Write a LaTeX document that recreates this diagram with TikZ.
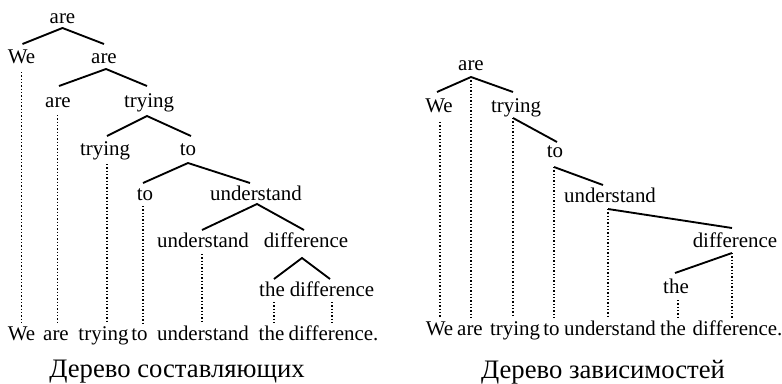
\documentclass[tikz,border=0pt]{standalone}
\usepackage{fontspec}
\setmainfont{Liberation Serif}
\usetikzlibrary{calc}
\begin{document}
\begin{tikzpicture}[x=0.75pt,y=-0.75pt,
  word/.style={anchor=base,inner sep=0pt,font=\fontsize{15.7}{18}\selectfont},
  capt/.style={anchor=base,inner sep=0pt,font=\fontsize{20}{24}\selectfont},
  edge/.style={line width=1.4pt},
  guide/.style={line width=1pt,dash pattern=on 1pt off 1.5pt}]
\useasboundingbox (0,0) rectangle (782,383);
% ---------- constituency tree ----------
\node[word] (a1) at (62.5,23) {are};
\node[word] (we) at (21.5,63) {We};
\node[word] (a2) at (104,63) {are};
\node[word] (a3) at (58,107) {are};
\node[word] (t1) at (149,107) {trying};
\node[word] (t2) at (105,155) {trying};
\node[word] (o1) at (188,155) {to};
\node[word] (o2) at (145,200) {to};
\node[word] (u1) at (256,200) {understand};
\node[word] (u2) at (203,247) {understand};
\node[word] (d1) at (306,247) {difference};
\node[word] (th) at (272,296) {the};
\node[word] (d2) at (332,296) {difference};
% bottom sentence
\node[word] (lw1) at (21.5,340) {We};
\node[word] (lw2) at (56,340) {are};
\node[word] (lw3) at (103.5,340) {trying};
\node[word] (lw4) at (139.5,340) {to};
\node[word] (lw5) at (203,340) {understand};
\node[word] (lw6) at (271.5,340) {the};
\node[word] (lw7) at (333.5,340) {difference.};
\node[capt] (c1) at (177,377) {Дерево составляющих};
% edges
\draw[edge] ($(we.base)+(1,-19)$) -- ($(a1.base)+(0,5)$) -- ($(a2.base)+(0,-19)$);
\draw[edge] ($(a3.base)+(1,-21)$) -- ($(a2.base)+(2,6)$) -- ($(t1.base)+(-2,-21)$);
\draw[edge] ($(t2.base)+(2,-19)$) -- ($(t1.base)+(-2,9)$) -- ($(o1.base)+(3,-19)$);
\draw[edge] ($(o2.base)+(-2,-17)$) -- ($(o1.base)+(0,8)$) -- ($(u1.base)+(-6,-17)$);
\draw[edge] ($(u2.base)+(-1,-17)$) -- ($(u1.base)+(1,4)$) -- ($(d1.base)+(-2,-17)$);
\draw[edge] ($(th.base)+(2,-17)$) -- ($(d1.base)+(-4,11)$) -- ($(d2.base)+(-2,-17)$);
% dotted guides
\draw[guide] ($(we.base)+(0,9)$) -- ($(we.base |- lw1.base)+(0,-17)$);
\draw[guide] ($(a3.base)+(-0.7,8)$) -- ($(a3.base |- lw2.base)+(-0.7,-17)$);
\draw[guide] ($(t2.base)+(2,9)$) -- ($(t2.base |- lw3.base)+(2,-17)$);
\draw[guide] ($(o2.base)+(-2,6)$) -- ($(o2.base |- lw4.base)+(-2,-17)$);
\draw[guide] ($(u2.base)+(-1,7)$) -- ($(u2.base |- lw5.base)+(-1,-17)$);
\draw[guide] ($(th.base)+(2,6)$) -- ($(th.base |- lw6.base)+(2,-17)$);
\draw[guide] ($(d2.base)+(0,6)$) -- ($(d2.base |- lw7.base)+(0,-17)$);
% ---------- dependency tree ----------
\node[word] (ra) at (471,70) {are};
\node[word] (rwe) at (439,112) {We};
\node[word] (rt) at (516,112) {trying};
\node[word] (ro) at (555,157) {to};
\node[word] (ru) at (610,202) {understand};
\node[word] (rd) at (735,247) {difference};
\node[word] (rth) at (676,293) {the};
\node[word] (rw1) at (439.5,335) {We};
\node[word] (rw2) at (470,335) {are};
\node[word] (rw3) at (515,335) {trying};
\node[word] (rw4) at (551.5,335) {to};
\node[word] (rw5) at (610,335) {understand};
\node[word] (rw6) at (673,335) {the};
\node[word] (rw7) at (737.5,335) {difference.};
\node[capt] (c2) at (603,378) {Дерево зависимостей};
% edges
\draw[edge] ($(rwe.base)+(-2,-20)$) -- ($(ra.base)+(0,7)$) -- ($(rt.base)+(-3,-20)$);
\draw[edge] ($(rt.base)+(-3,6)$) -- ($(ro.base)+(2,-15)$);
\draw[edge] ($(ro.base)+(-1,10)$) -- ($(ru.base)+(-7,-17)$);
\draw[edge] ($(ru.base)+(-2,7)$) -- ($(rd.base)+(-3,-19)$);
\draw[edge] ($(rd.base)+(-3,6)$) -- ($(rth.base)+(-1,-20)$);
% dotted guides
\draw[guide] ($(rwe.base)+(1,10)$) -- ($(rwe.base |- rw1.base)+(1,-17)$);
\draw[guide] ($(ra.base)+(0,7)$) -- ($(ra.base |- rw2.base)+(0,-17)$);
\draw[guide] ($(rt.base)+(-3,6)$) -- ($(rt.base |- rw3.base)+(-3,-17)$);
\draw[guide] ($(ro.base)+(-1,10)$) -- ($(ro.base |- rw4.base)+(-1,-17)$);
\draw[guide] ($(ru.base)+(-2,7)$) -- ($(ru.base |- rw5.base)+(-2,-17)$);
\draw[guide] ($(rd.base)+(-3,6)$) -- ($(rd.base |- rw7.base)+(-3,-17)$);
\draw[guide] ($(rth.base)+(2,7)$) -- ($(rth.base |- rw6.base)+(2,-17)$);
\end{tikzpicture}
\end{document}
